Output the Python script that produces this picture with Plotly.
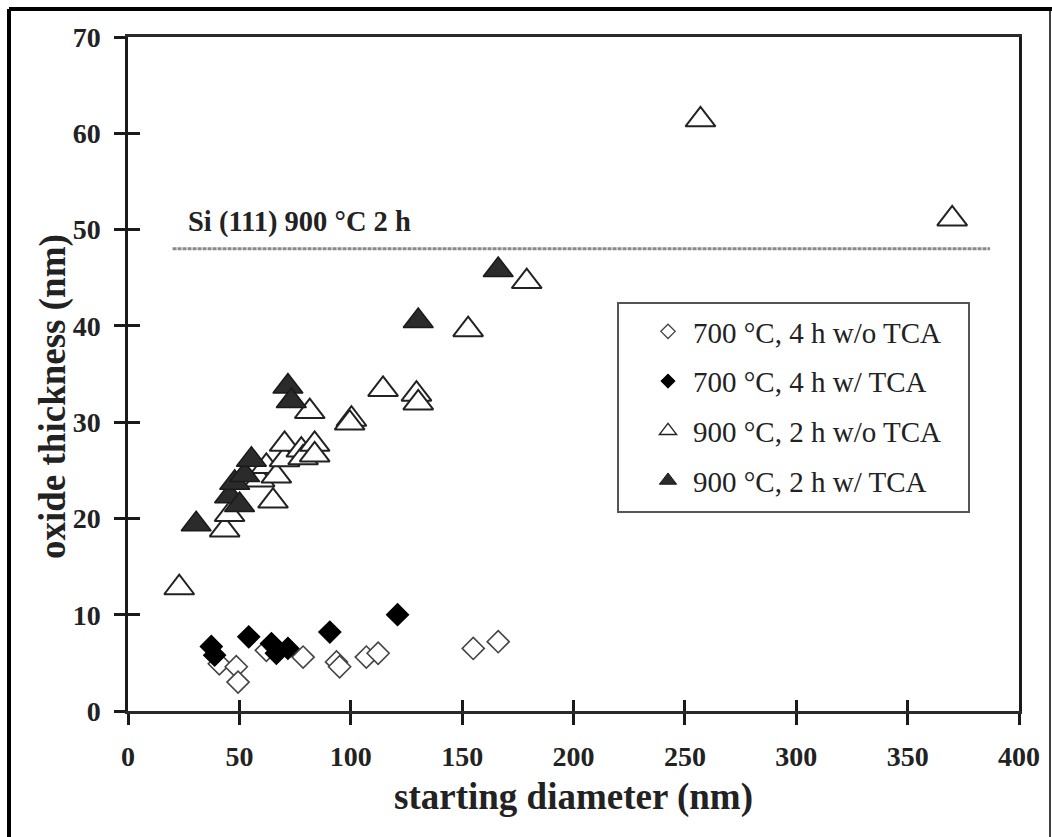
import plotly.graph_objects as go

# ---- data ----
d700_open_x = [41.0, 48.6, 49.4, 62.1, 78.6, 93.6, 95.0, 107.0, 112.3, 155.0, 166.2]
d700_open_y = [4.9, 4.6, 3.0, 6.3, 5.6, 5.1, 4.6, 5.6, 6.0, 6.5, 7.2]

d700_tca_x = [37.4, 38.9, 54.2, 64.4, 66.6, 71.8, 90.6, 121.0]
d700_tca_y = [6.7, 5.8, 7.7, 7.0, 6.0, 6.5, 8.2, 10.0]

d900_open_x = [23.0, 43.4, 45.6, 59.1, 62.1, 65.1, 66.6, 70.3, 70.3, 77.8, 78.6, 83.8, 83.8,
               81.6, 100.3, 99.5, 114.5, 129.5, 130.3, 152.7, 179.0, 257.0, 370.0]
d900_open_y = [12.8, 18.8, 20.4, 24.0, 25.4, 21.8, 24.4, 26.1, 27.7, 27.1, 26.3, 27.7, 26.6,
               31.1, 30.3, 29.9, 33.4, 32.9, 32.0, 39.6, 44.6, 61.4, 51.1]

d900_tca_x = [30.6, 45.6, 47.9, 50.1, 52.4, 55.4, 71.8, 73.3, 130.3, 166.2]
d900_tca_y = [19.4, 22.3, 23.7, 21.4, 24.5, 26.1, 33.7, 32.2, 40.5, 45.8]

ref_x = [20, 387]
ref_y = [48, 48]
ref_label = "Si (111) 900 °C 2 h"

names = ["700 °C, 4 h w/o TCA", "700 °C, 4 h w/ TCA",
         "900 °C, 2 h w/o TCA", "900 °C, 2 h w/ TCA"]

x_ticks = [0, 50, 100, 150, 200, 250, 300, 350, 400]
y_ticks = [0, 10, 20, 30, 40, 50, 60, 70]

x_title = "starting diameter (nm)"
y_title = "oxide thickness (nm)"

SERIF = "Liberation Serif, Times New Roman, serif"

fig = go.Figure()

# reference line
fig.add_trace(go.Scatter(x=ref_x, y=ref_y, mode="lines", showlegend=False,
                         line=dict(color="#8a8a8a", width=3, dash="4px,1px"),
                         hoverinfo="skip"))

styles = [
    dict(symbol="diamond", size=17, color="white", line=dict(color="#444444", width=1.6)),
    dict(symbol="diamond", size=17, color="black", line=dict(color="black", width=1.2)),
    dict(symbol="triangle-up", size=26, color="white", line=dict(color="#222222", width=2)),
    dict(symbol="triangle-up", size=26, color="#2b2b2b", line=dict(color="#1a1a1a", width=1.5)),
]
data = [(d700_open_x, d700_open_y), (d700_tca_x, d700_tca_y),
        (d900_open_x, d900_open_y), (d900_tca_x, d900_tca_y)]

for i, ((xs, ys), st, nm) in enumerate(zip(data, styles, names)):
    fig.add_trace(go.Scatter(x=xs, y=ys, mode="markers", name=nm,
                             marker=st, showlegend=False, cliponaxis=False))

# legend entries (smaller symbols as in the reference legend)
leg_styles = [
    dict(symbol="diamond", size=11, color="white", line=dict(color="#444444", width=1.3)),
    dict(symbol="diamond", size=11, color="black", line=dict(color="black", width=1)),
    dict(symbol="triangle-up", size=15, color="white", line=dict(color="#222222", width=1.3)),
    dict(symbol="triangle-up", size=15, color="#2b2b2b", line=dict(color="#1a1a1a", width=1)),
]
for i, (st, nm) in enumerate(zip(leg_styles, names)):
    fig.add_trace(go.Scatter(x=[None], y=[None], mode="markers", name=nm,
                             marker=st, legendgroup=f"g{i}", showlegend=True))

fig.add_annotation(x=26, y=50.8, xref="x", yref="y", text=ref_label, showarrow=False,
                   xanchor="left", yanchor="middle",
                   font=dict(family=SERIF, size=28.5, color="#222222", weight="bold"))

# crossing-tick overlay axes
fig.add_trace(go.Scatter(x=[None], y=[None], xaxis="x2", yaxis="y2", showlegend=False))

L, R, T, B = 128, 33, 37, 126
W, H = 1052, 837
pw, ph = W - L - R, H - T - B

def px_x(p):
    return (p - L) / pw

def px_y(p):
    return (H - B - p) / ph

# y-axis title (placed as in the reference, slightly below plot centre)
fig.add_annotation(x=px_x(53), y=px_y(397), xref="paper", yref="paper", text=y_title,
                   showarrow=False, textangle=-90, xanchor="center", yanchor="middle",
                   font=dict(family=SERIF, size=37, color="#222222", weight="bold"))

shapes = [
    # legend box
    dict(type="rect", xref="paper", yref="paper", x0=px_x(618), x1=px_x(969),
         y0=px_y(512), y1=px_y(303), line=dict(color="#555555", width=2), layer="below"),
    # outer frame
    dict(type="line", xref="paper", yref="paper", x0=px_x(9), x1=px_x(9),
         y0=px_y(9), y1=px_y(900), line=dict(color="black", width=4)),
    dict(type="line", xref="paper", yref="paper", x0=px_x(9), x1=px_x(1060),
         y0=px_y(9), y1=px_y(9), line=dict(color="black", width=4)),
    dict(type="line", xref="paper", yref="paper", x0=px_x(1050), x1=px_x(1050),
         y0=px_y(9), y1=px_y(900), line=dict(color="black", width=1.5)),
]

fig.update_layout(
    width=W, height=H,
    margin=dict(l=L, r=R, t=T, b=B),
    paper_bgcolor="white", plot_bgcolor="white",
    font=dict(family=SERIF, color="#222222"),
    shapes=shapes,
    xaxis=dict(range=[0, 400], tickvals=x_ticks, showgrid=False, zeroline=False,
               showline=True, linecolor="#2a2a2a", linewidth=3, mirror=True,
               ticks="outside", ticklen=11, tickwidth=2.5, tickcolor="#1a1a1a",
               tickfont=dict(family=SERIF, size=28, color="#222222", weight="bold"),
               ticklabelstandoff=7,
               title=dict(text=x_title, standoff=13,
                          font=dict(family=SERIF, size=37, color="#222222", weight="bold"))),
    yaxis=dict(range=[0, 70], tickvals=y_ticks, showgrid=False, zeroline=False,
               showline=True, linecolor="#1a1a1a", linewidth=2.5, mirror=True,
               ticks="outside", ticklen=11, tickwidth=2.5, tickcolor="#1a1a1a",
               tickfont=dict(family=SERIF, size=28, color="#222222", weight="bold"),
               ticklabelstandoff=8),
    xaxis2=dict(overlaying="x", range=[0, 400], tickvals=x_ticks, showticklabels=False,
                showgrid=False, zeroline=False, showline=False,
                ticks="inside", ticklen=11, tickwidth=2.5, tickcolor="#1a1a1a"),
    yaxis2=dict(overlaying="y", range=[0, 70], tickvals=y_ticks, showticklabels=False,
                showgrid=False, zeroline=False, showline=False,
                ticks="inside", ticklen=12, tickwidth=2.5, tickcolor="#1a1a1a"),
    legend=dict(x=px_x(643), y=px_y(306), xanchor="left", yanchor="top",
                bgcolor="rgba(0,0,0,0)", borderwidth=0, itemwidth=40,
                tracegroupgap=9,
                font=dict(family=SERIF, size=29, color="#222222")),
)

fig.write_html("out.html")
